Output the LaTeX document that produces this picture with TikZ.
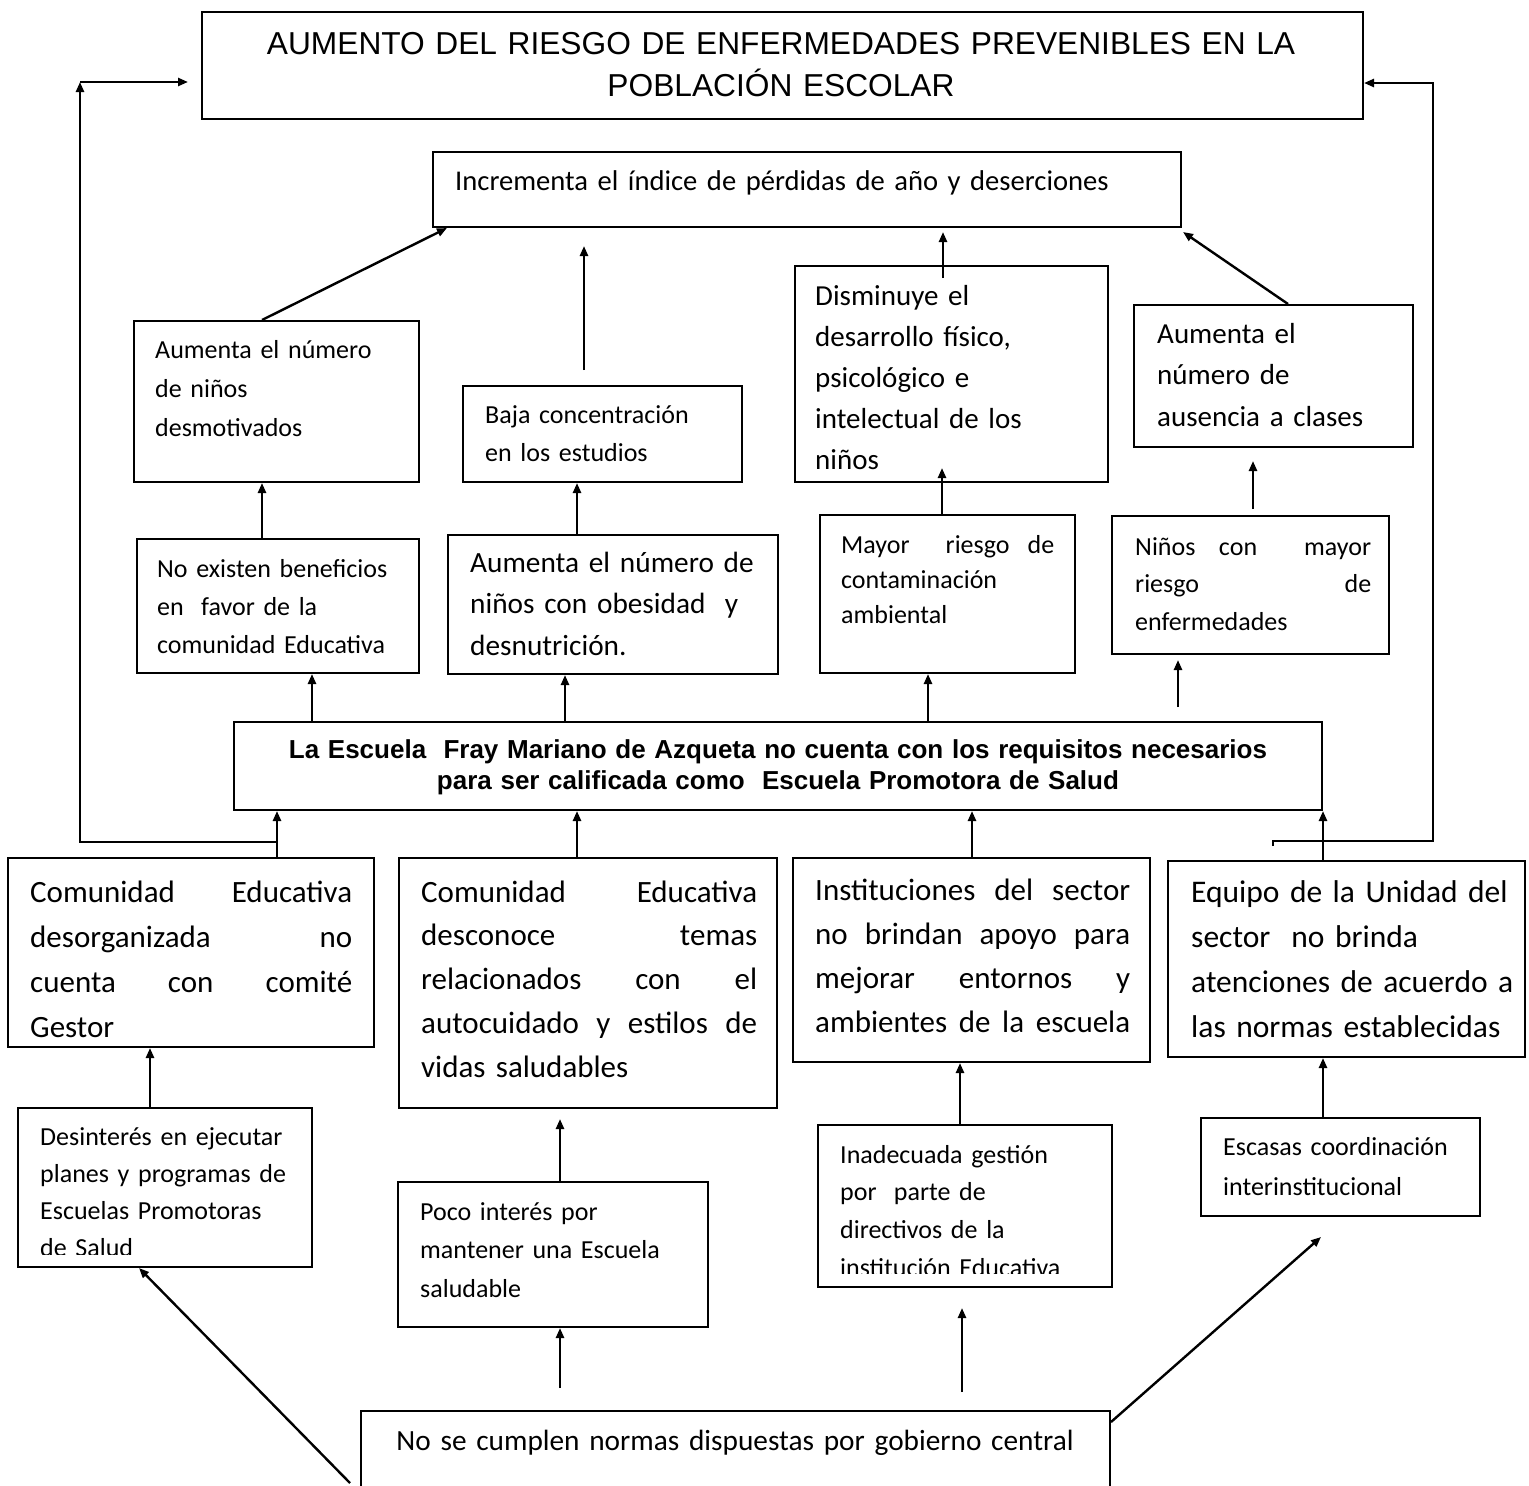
\documentclass[tikz,border=0pt]{standalone}
\usepackage{fontspec}
\setmainfont{Carlito}
\newfontfamily\arialfont{Liberation Sans}
\usetikzlibrary{arrows.meta,fit}

\tikzset{
  box/.style={draw, line width=2pt, inner sep=0pt},
  txt/.style={anchor=base west, inner sep=0pt, align=left},
  arr/.style={line width=2.4pt, -{Triangle[length=10pt,width=8pt]}},
}

\begin{document}
\begin{tikzpicture}[x=1pt,y=-1pt]
\useasboundingbox (0,0) rectangle (1529,1486);
\clip (0,0) rectangle (1529,1486);

% cajas
\node[box, fit={(202,12) (1363,119)}] (title) {};
\node[box, fit={(433,152) (1181,227)}] (inc) {};
\node[box, fit={(134,321) (419,482)}] (dm) {};
\node[box, fit={(463,386) (742,482)}] (ba) {};
\node[box, fit={(795,266) (1108,482)}] (di) {};
\node[box, fit={(1134,305) (1413,447)}] (au) {};
\node[box, fit={(137,539) (419,673)}] (ne) {};
\node[box, fit={(448,535) (778,674)}] (ob) {};
\node[box, fit={(820,515) (1075,673)}] (ma) {};
\node[box, fit={(1112,516) (1389,654)}] (ni) {};
\node[box, fit={(234,722) (1322,810)}] (esc) {};
\node[box, fit={(8,858) (374,1047)}] (cd) {};
\node[box, fit={(399,858) (777,1108)}] (dc) {};
\node[box, fit={(793,858) (1150,1062)}] (in) {};
\node[box, fit={(1168,861) (1525,1057)}] (eq) {};
\node[box, fit={(18,1108) (312,1267)}] (de) {};
\node[box, fit={(398,1182) (708,1327)}] (pi) {};
\node[box, fit={(818,1125) (1112,1287)}] (ia) {};
\node[box, fit={(1201,1118) (1480,1216)}] (ec) {};
\node[box, fit={(361,1411) (1110,1500)}] (nc) {};

% textos
\node[txt, anchor=base, align=center, text width=1150pt, font=\arialfont\fontsize{31.7}{42}\selectfont] (titlet) at (781,54)
  {AUMENTO DEL RIESGO DE ENFERMEDADES PREVENIBLES EN LA\\POBLACIÓN ESCOLAR};
\node[txt, text width=700pt, font=\fontsize{28.6}{36}\selectfont] (inct) at (455,190)
  {Incrementa el índice de pérdidas de año y deserciones};
\node[txt, text width=250pt, font=\fontsize{26}{39}\selectfont] (dmt) at (155,358)
  {Aumenta el número\\de niños\\desmotivados};
\node[txt, text width=250pt, font=\fontsize{26}{38}\selectfont] (bat) at (485,423)
  {Baja concentración\\en los estudios};
\node[txt, text width=280pt, font=\fontsize{29}{41}\selectfont] (dit) at (815,305)
  {Disminuye el\\desarrollo físico,\\psicológico e\\intelectual de los\\niños};
\node[txt, text width=250pt, font=\fontsize{29}{41.5}\selectfont] (aut) at (1157,343)
  {Aumenta el\\número de\\ausencia a clases};
\node[txt, text width=255pt, font=\fontsize{26}{38}\selectfont] (net) at (157,577)
  {No existen beneficios\\en~ favor de la\\comunidad Educativa};
\node[txt, text width=300pt, font=\fontsize{29.3}{41.5}\selectfont] (obt) at (470,572)
  {Aumenta el número de\\niños con obesidad~ y\\desnutrición.};
\node[txt, text width=213pt, font=\fontsize{26}{35}\selectfont] (mat) at (841,553)
  {Mayor\hfill\hfill riesgo\hfill de\\contaminación\\ambiental};
\node[txt, text width=236pt, font=\fontsize{26}{37.5}\selectfont] (nit) at (1135,555)
  {Niños\hfill con\hfill\hfill mayor\\riesgo\hfill de\\enfermedades};
\node[txt, anchor=base, align=center, text width=1080pt, font=\arialfont\bfseries\fontsize{26}{31}\selectfont] (esct) at (778,758)
  {La Escuela~ Fray Mariano de Azqueta no cuenta con los requisitos necesarios\\para ser calificada como~ Escuela Promotora de Salud};
\node[txt, text width=322pt, font=\fontsize{31}{45}\selectfont] (cdt) at (30,902)
  {Comunidad\hfill Educativa\\desorganizada\hfill no\\cuenta\hfill con\hfill comité\\Gestor};
\node[txt, text width=336pt, font=\fontsize{31}{43.75}\selectfont] (dct) at (421,902)
  {Comunidad\hfill Educativa\\desconoce\hfill temas\\relacionados\hfill con\hfill el\\autocuidado\hfill y\hfill estilos\hfill de\\vidas saludables};
\node[txt, text width=315pt, font=\fontsize{31}{44.3}\selectfont] (int) at (815,900)
  {Instituciones\hfill del\hfill sector\\no\hfill brindan\hfill apoyo\hfill para\\mejorar\hfill entornos\hfill y\\ambientes\hfill de\hfill la\hfill escuela};
\node[txt, text width=330pt, font=\fontsize{31.5}{45}\selectfont] (eqt) at (1191,902)
  {Equipo de la Unidad del\\sector~ no brinda\\atenciones de acuerdo a\\las normas establecidas};
\begin{scope}
  \clip (18,1108) rectangle (312,1254);
  \node[txt, text width=260pt, font=\fontsize{26}{37.3}\selectfont] (det) at (40,1145)
    {Desinterés en ejecutar\\planes y programas de\\Escuelas Promotoras\\de Salud};
\end{scope}
\node[txt, text width=270pt, font=\fontsize{26}{38.5}\selectfont] (pit) at (420,1220)
  {Poco interés por\\mantener una Escuela\\saludable};
\begin{scope}
  \clip (818,1125) rectangle (1112,1273);
  \node[txt, text width=260pt, font=\fontsize{26}{37.7}\selectfont] (iat) at (840,1163)
    {Inadecuada gestión\\por~ parte de\\directivos de la\\institución Educativa};
\end{scope}
\node[txt, text width=250pt, font=\fontsize{26}{40}\selectfont] (ect) at (1223,1155)
  {Escasas coordinación\\interinstitucional};
\node[txt, anchor=base, align=center, text width=740pt, font=\fontsize{29.3}{36}\selectfont] (nct) at (735,1450)
  {No se cumplen normas dispuestas por gobierno central};

% puntos libres
\coordinate (lj) at (277,842);
\coordinate (lb) at (80,842);
\coordinate (lt) at (80,82);
\coordinate (le) at (188,82);
\coordinate (rj) at (1273,846);
\coordinate (rb) at (1433,841);
\coordinate (rt) at (1433,83);
\coordinate (n1) at (1178,707);
\coordinate (n2) at (1178,660);
\coordinate (d1) at (942,468);
\coordinate (a1) at (1253,509);
\coordinate (a2) at (1253,461);
\coordinate (b1) at (584,370);
\coordinate (b2) at (584,246);
\coordinate (i1) at (943,278);
\coordinate (i2) at (943,232);
\coordinate (i3) at (1183,232);
\coordinate (p1) at (560,1119);
\coordinate (c1) at (350,1483);
\coordinate (c2) at (560,1388);
\coordinate (c3) at (962,1392);
\coordinate (c4) at (962,1308);
\coordinate (c5) at (1321,1237);

% flechas
\draw[arr] (cd.north -| lj) -- (esc.south -| lj);
\draw[arr] (lj) -- (lb) -- (lt);
\draw[arr] (lt) -- (le);
\draw[arr] (rj) |- (rb) -- (rt) -- (title.east |- rt);
\draw[arr] (dc.north -| 577,0) -- (esc.south -| 577,0);
\draw[arr] (in.north -| 972,0) -- (esc.south -| 972,0);
\draw[arr] (eq.north -| esc.south east) -- (esc.south east);
\draw[arr] (esc.north -| 312,0) -- (ne.south -| 312,0);
\draw[arr] (esc.north -| 565,0) -- (ob.south -| 565,0);
\draw[arr] (esc.north -| 928,0) -- (ma.south -| 928,0);
\draw[arr] (n1) -- (n2);
\draw[arr] (ne.north -| 262,0) -- (dm.south -| 262,0);
\draw[arr] (ob.north -| 577,0) -- (ba.south -| 577,0);
\draw[arr] (ma.north -| d1) -- (d1);
\draw[arr] (a1) -- (a2);
\draw[arr] (dm.north -| 262,0) -- (inc.south -| 447,0);
\draw[arr] (b1) -- (b2);
\draw[arr] (i1) -- (i2);
\draw[arr] (au.north -| 1288,0) -- (i3);
\draw[arr] (de.north -| 150,0) -- (cd.south -| 150,0);
\draw[arr] (pi.north -| p1) -- (p1);
\draw[arr] (ia.north -| 960,0) -- (in.south -| 960,0);
\draw[arr] (ec.north -| 1323,0) -- (eq.south -| 1323,0);
\draw[arr] (c1) -- (de.south -| 139,0);
\draw[arr] (c2) -- (pi.south -| c2);
\draw[arr] (c3) -- (c4);
\draw[arr] (nc.east |- 0,1422) -- (c5);
\end{tikzpicture}
\end{document}
